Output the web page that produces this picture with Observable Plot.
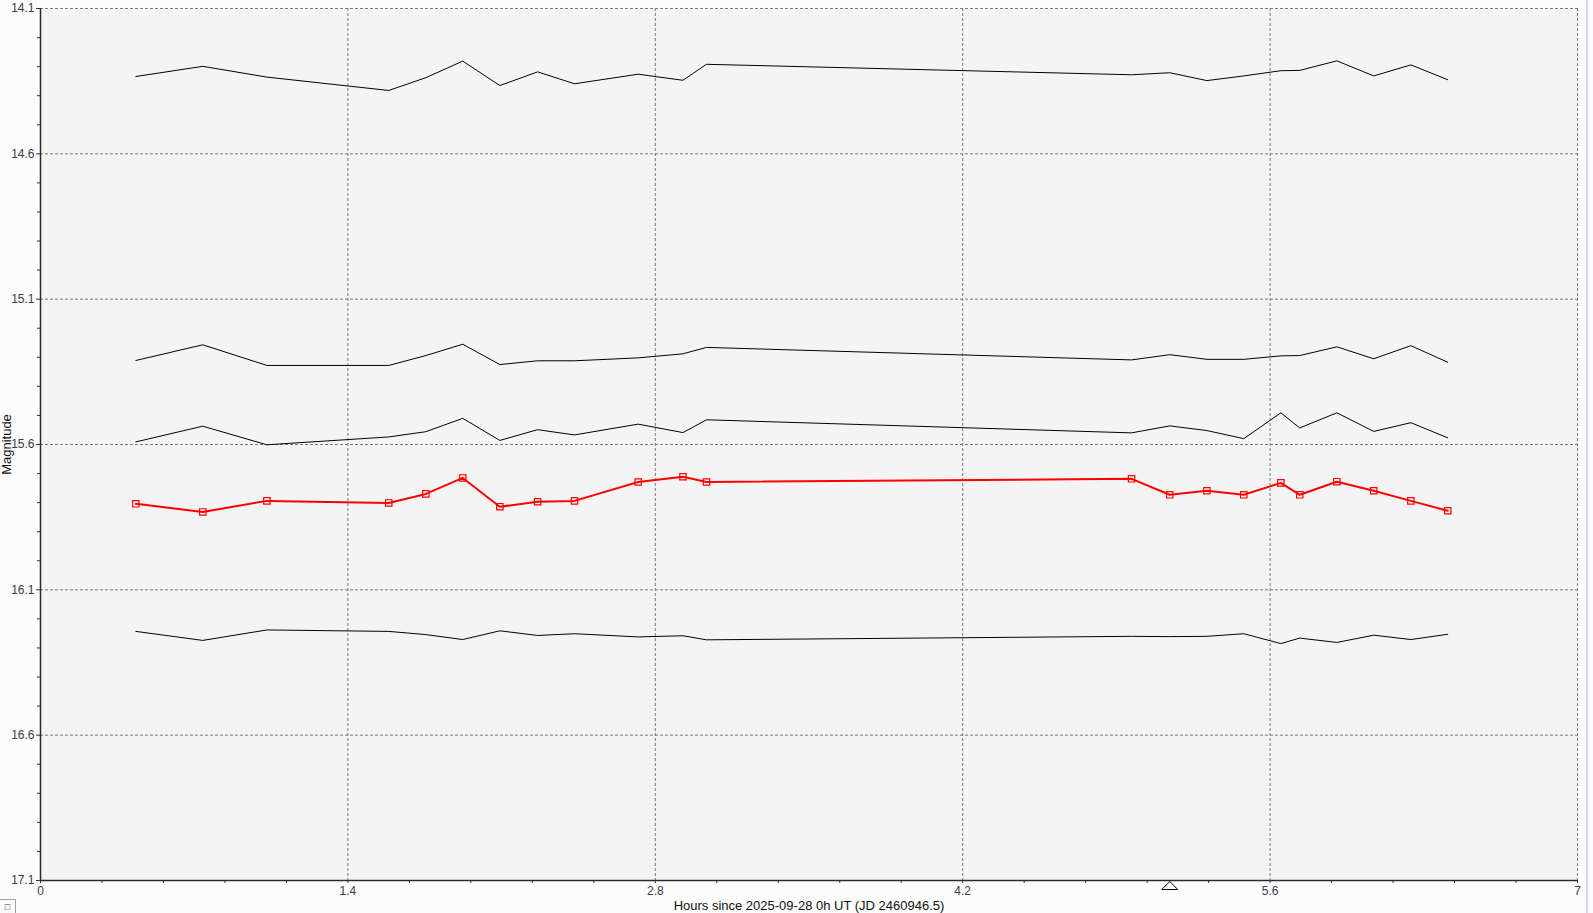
<!DOCTYPE html>
<html>
<head>
<meta charset="utf-8">
<script src="https://cdn.jsdelivr.net/npm/d3@7"></script>
<script src="https://cdn.jsdelivr.net/npm/@observablehq/plot@0.6"></script>
<style>
  html, body { margin: 0; padding: 0; background: #fcfcfc; overflow: hidden; }
  #wrap { position: relative; width: 1593px; height: 913px; }
  #edge { position: absolute; left: 1586px; top: 0; width: 2px; height: 913px; background: #d4d4ec; }
  #box { position: absolute; left: 0; top: 899px; width: 15px; height: 14px; border: 1px solid #a0a0a0; border-left: none; border-bottom: none; background: #fafafa; font: 9px "Liberation Sans", sans-serif; color: #333; text-align: center; line-height: 14px; }
</style>
</head>
<body>
<div id="wrap"><div id="edge"></div><div id="box">&#9633;</div></div>
<script>
// Observation times (hours since 2025-09-28 0h UT)
const times = [0.434, 0.739, 1.031, 1.586, 1.755, 1.923, 2.092, 2.264, 2.432, 2.722, 2.926, 3.033,
               4.969, 5.143, 5.312, 5.480, 5.649, 5.735, 5.904, 6.072, 6.241, 6.409];

// Comparison / check star magnitudes (black lines)
const comp1 = [14.334, 14.299, 14.336, 14.382, 14.338, 14.281, 14.365, 14.318, 14.359, 14.326, 14.347, 14.292,
               14.328, 14.321, 14.348, 14.332, 14.314, 14.313, 14.280, 14.332, 14.294, 14.345];
const comp2 = [15.311, 15.257, 15.328, 15.328, 15.294, 15.255, 15.325, 15.312, 15.312, 15.302, 15.288, 15.266,
               15.309, 15.291, 15.307, 15.307, 15.295, 15.294, 15.264, 15.305, 15.260, 15.317];
const comp3 = [15.591, 15.537, 15.601, 15.574, 15.556, 15.510, 15.586, 15.549, 15.567, 15.530, 15.559, 15.515,
               15.560, 15.536, 15.552, 15.580, 15.491, 15.543, 15.491, 15.555, 15.525, 15.577];
const comp4 = [16.243, 16.274, 16.238, 16.243, 16.254, 16.271, 16.241, 16.257, 16.251, 16.262, 16.258, 16.272,
               16.260, 16.261, 16.260, 16.251, 16.285, 16.266, 16.281, 16.256, 16.271, 16.253];

// Target star magnitudes (red line with squares)
const target = [15.804, 15.832, 15.794, 15.801, 15.770, 15.715, 15.814, 15.797, 15.794, 15.729, 15.711, 15.729,
                15.718, 15.773, 15.759, 15.773, 15.732, 15.773, 15.728, 15.759, 15.794, 15.828];

// Marked time (triangle under the axis)
const markedTime = [5.143];

// Axis ticks
const xTicks = [0, 1.4, 2.8, 4.2, 5.6, 7];
const xTickLabels = ["0", "1.4", "2.8", "4.2", "5.6", "7"];
const xMinor = [0.28, 0.56, 0.84, 1.12, 1.68, 1.96, 2.24, 2.52, 3.08, 3.36, 3.64, 3.92, 4.48, 4.76, 5.04, 5.32, 5.88, 6.16, 6.44, 6.72];
const yTicks = [14.1, 14.6, 15.1, 15.6, 16.1, 16.6, 17.1];
const yTickLabels = ["14.1", "14.6", "15.1", "15.6", "16.1", "16.6", "17.1"];
const yMinor = d3.range(14.2, 17.1, 0.1).map(v => Math.round(v * 10) / 10).filter(v => !yTicks.includes(v));

const xLabel = ["Hours since 2025-09-28 0h UT (JD 2460946.5)"];
const yLabel = ["Magnitude"];

const blackSeries = [comp1, comp2, comp3, comp4];

const triangle = {
  draw(ctx) {
    ctx.moveTo(0, -4);
    ctx.lineTo(8, 4);
    ctx.lineTo(-8, 4);
    ctx.closePath();
  }
};

const grid = {stroke: "#7a7a7a", strokeOpacity: 1, strokeWidth: 1, strokeDasharray: "3,2"};

const chart = Plot.plot({
  width: 1593,
  height: 913,
  marginLeft: 40,
  marginRight: 16,
  marginTop: 8,
  marginBottom: 33,
  style: {fontFamily: "'Liberation Sans', Arial, sans-serif", fontSize: "12px", background: "transparent", color: "#000", overflow: "visible"},
  x: {domain: [0, 7]},
  y: {domain: [17.1, 14.1]},
  marks: [
    Plot.frame({fill: "#f4f4f4", stroke: null}),
    Plot.gridX(xTicks.filter(v => v > 0), grid),
    Plot.gridY(yTicks.filter(v => v < 17.1), grid),
    Plot.axisX(xMinor, {tickSize: 3, text: null, label: null, stroke: "#333"}),
    Plot.axisY(yMinor, {tickSize: 3, text: null, label: null, stroke: "#333"}),
    Plot.axisX(xTicks, {tickSize: 3, tickPadding: 3, stroke: "#333", fill: "#3a3a50",
      tickFormat: (d) => xTickLabels[xTicks.indexOf(d)], label: null}),
    Plot.axisY(yTicks, {tickSize: 4, tickPadding: 2, stroke: "#333", fill: "#3a3a50",
      tickFormat: (d) => yTickLabels[yTicks.indexOf(d)], label: null}),
    Plot.text(xLabel, {frameAnchor: "bottom", dy: 29, fontSize: 13, fill: "#111"}),
    Plot.text(yLabel, {frameAnchor: "left", dx: -34, rotate: -90, textAnchor: "middle", fontSize: 13, fill: "#111"}),
    Plot.ruleX([0], {stroke: "#2a2a2a", strokeWidth: 1.5}),
    Plot.ruleY([17.1], {stroke: "#2a2a2a", strokeWidth: 1.5}),
    ...blackSeries.map(s => Plot.line(s, {x: (d, i) => times[i], y: d => d, stroke: "#000", strokeWidth: 1})),
    Plot.line(target, {x: (d, i) => times[i], y: d => d, stroke: "#ff0000", strokeWidth: 2}),
    Plot.dot(target, {x: (d, i) => times[i], y: d => d, symbol: "square", r: 3.6, stroke: "#ff0000", strokeWidth: 1.2, fill: "none"}),
    Plot.dot(markedTime, {x: d => d, frameAnchor: "bottom", dy: 5, symbol: triangle, stroke: "#000", strokeWidth: 1, fill: "none"})
  ]
});

document.getElementById("wrap").prepend(chart);
chart.style.position = "absolute";
chart.style.left = "0";
chart.style.top = "0";
</script>
</body>
</html>
